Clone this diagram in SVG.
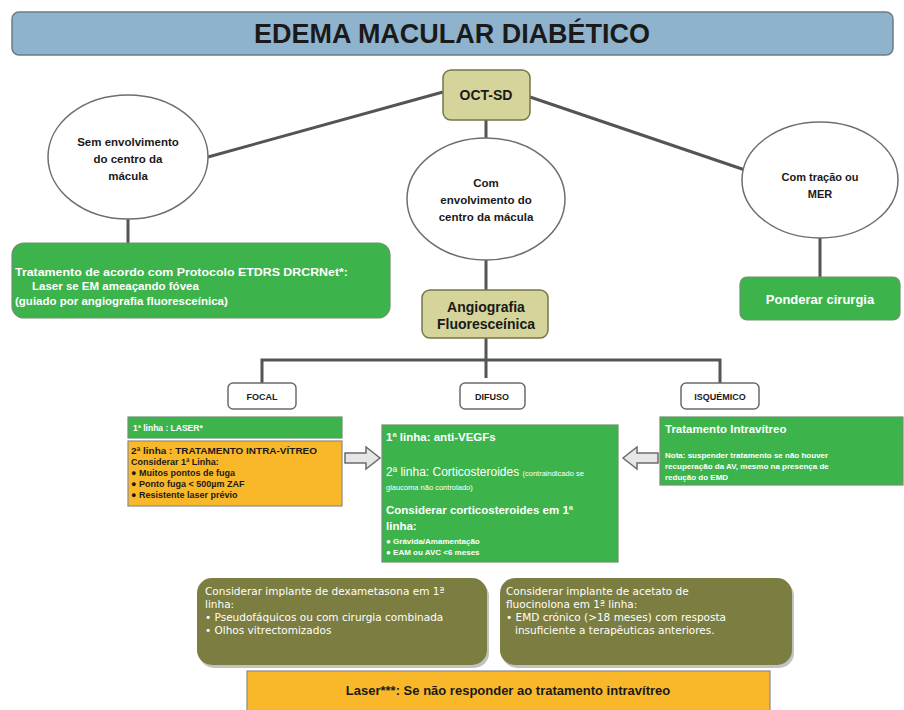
<svg xmlns="http://www.w3.org/2000/svg" width="904" height="710" viewBox="0 0 904 710">
<defs>
<style>
.ln{stroke:#545454;stroke-width:3;fill:none}
.ell{fill:#fff;stroke:#6e6e6e;stroke-width:1.5}
.khaki{fill:#d5d49a;stroke:#77764a;stroke-width:1.5}
.green{fill:#3cb44b;stroke:#6f8f6f;stroke-width:1.2}
.orange{fill:#f8b829;stroke:#8a8a8a;stroke-width:1.2}
.olive{fill:#7b7e40}
.shadow{fill:#9a9a9a;opacity:0.6}
.tag{fill:#fff;stroke:#6b6b6b;stroke-width:1.5}
.arrow{fill:#e6e6e6;stroke:#6b6b6b;stroke-width:1.5}
.b{font-family:"Liberation Sans",Arial,sans-serif;font-weight:bold}
.r{font-family:"Liberation Sans",Arial,sans-serif}
.v{font-family:"DejaVu Sans",Verdana,sans-serif}
.dk{fill:#1a1a1a}
.wh{fill:#fff}
</style>
</defs>
<rect width="904" height="710" fill="#fff"/>

<g id="title">
<rect x="12" y="12" width="881" height="43" rx="7" fill="#8fb3cd" stroke="#6a7c88" stroke-width="1.5"/>
<text x="452" y="43" text-anchor="middle" class="b dk" font-size="27" textLength="396" lengthAdjust="spacingAndGlyphs">EDEMA MACULAR DIABÉTICO</text>
</g>

<g id="connectors">
<line class="ln" x1="208" y1="157" x2="443" y2="92"/>
<line class="ln" x1="530" y1="97" x2="745" y2="170"/>
<line class="ln" x1="486" y1="120" x2="486" y2="138"/>
<line class="ln" x1="486" y1="260" x2="486" y2="290"/>
<line class="ln" x1="128" y1="219" x2="128" y2="243"/>
<line class="ln" x1="820" y1="238" x2="820" y2="277"/>
<line class="ln" x1="486" y1="338" x2="486" y2="378"/>
<polyline class="ln" points="262,383 262,360 720,360 720,383"/>
</g>

<g id="oct-sd">
<rect class="khaki" x="443" y="70" width="87" height="50" rx="8"/>
<text x="486" y="100" text-anchor="middle" class="b dk" font-size="14">OCT-SD</text>
</g>

<g id="sem-envolvimento">
<ellipse class="ell" cx="128" cy="157" rx="80" ry="62"/>
<text x="128" y="146" text-anchor="middle" class="b dk" font-size="11.5">Sem envolvimento</text>
<text x="128" y="163" text-anchor="middle" class="b dk" font-size="11.5">do centro da</text>
<text x="128" y="180" text-anchor="middle" class="b dk" font-size="11.5">mácula</text>
</g>

<g id="com-envolvimento">
<ellipse class="ell" cx="486" cy="199" rx="79" ry="61"/>
<text x="486" y="187" text-anchor="middle" class="b dk" font-size="11.5">Com</text>
<text x="486" y="204" text-anchor="middle" class="b dk" font-size="11.5">envolvimento do</text>
<text x="486" y="221" text-anchor="middle" class="b dk" font-size="11.5">centro da mácula</text>
</g>

<g id="com-tracao">
<ellipse class="ell" cx="820" cy="180" rx="78" ry="58"/>
<text x="820" y="181" text-anchor="middle" class="b dk" font-size="11">Com tração ou</text>
<text x="820" y="198" text-anchor="middle" class="b dk" font-size="11">MER</text>
</g>

<g id="tratamento-etdrs">
<rect class="green" x="12" y="243" width="378" height="75" rx="12"/>
<text x="15" y="276" class="b wh" font-size="11.5" textLength="333" lengthAdjust="spacingAndGlyphs">Tratamento de acordo com Protocolo ETDRS DRCRNet*:</text>
<text x="32" y="290" class="b wh" font-size="11.5">Laser se EM ameaçando fóvea</text>
<text x="15" y="305" class="b wh" font-size="11.5">(guiado por angiografia fluoresceínica)</text>
</g>

<g id="angiografia">
<rect class="khaki" x="422" y="290" width="126" height="48" rx="8"/>
<text x="486" y="312" text-anchor="middle" class="b dk" font-size="14">Angiografia</text>
<text x="486" y="329" text-anchor="middle" class="b dk" font-size="14">Fluoresceínica</text>
</g>

<g id="ponderar-cirurgia">
<rect class="green" x="740" y="277" width="160" height="43" rx="7"/>
<text x="820" y="304" text-anchor="middle" class="b wh" font-size="13">Ponderar cirurgia</text>
</g>

<g id="focal">
<rect class="tag" x="228" y="383" width="68" height="26" rx="5"/>
<text x="262" y="400" text-anchor="middle" class="b dk" font-size="9">FOCAL</text>
</g>
<g id="difuso">
<rect class="tag" x="460" y="383" width="65" height="26" rx="5"/>
<text x="492" y="400" text-anchor="middle" class="b dk" font-size="9">DIFUSO</text>
</g>
<g id="isquemico">
<rect class="tag" x="681" y="383" width="78" height="26" rx="5"/>
<text x="720" y="400" text-anchor="middle" class="b dk" font-size="9">ISQUÉMICO</text>
</g>

<g id="laser-1linha">
<rect class="green" x="128" y="417" width="214" height="21"/>
<text x="133" y="431" class="b wh" font-size="8.5">1ª linha : LASER*</text>
</g>

<g id="intravitreo-2linha">
<rect class="orange" x="128" y="441" width="214" height="65"/>
<text x="131" y="454" class="b dk" font-size="9" textLength="186" lengthAdjust="spacingAndGlyphs">2ª linha : TRATAMENTO INTRA-VÍTREO</text>
<text x="131" y="465" class="b dk" font-size="9">Considerar 1ª Linha:</text>
<text x="131" y="476" class="b dk" font-size="9">●  Muitos pontos de fuga</text>
<text x="131" y="487" class="b dk" font-size="9">●  Ponto fuga &lt; 500µm ZAF</text>
<text x="131" y="498" class="b dk" font-size="9">●  Resistente laser prévio</text>
</g>

<g id="arrow-right">
<path class="arrow" d="M345,453 H366 V447 L380,458 L366,469 V463 H345 Z"/>
</g>

<g id="difuso-tratamento">
<rect class="green" x="382" y="425" width="236" height="137"/>
<text x="386" y="441" class="b wh" font-size="11.5">1ª linha: anti-VEGFs</text>
<text x="386" y="476" class="r wh" font-size="12">2ª linha: Corticosteroides <tspan font-size="7.5">(contraindicado se</tspan></text>
<text x="386" y="490" class="r wh" font-size="7.5">glaucoma não controlado)</text>
<text x="386" y="514" class="b wh" font-size="11.5">Considerar corticosteroides em 1ª</text>
<text x="386" y="530" class="b wh" font-size="11.5">linha:</text>
<text x="386" y="544" class="b wh" font-size="8">●   Grávida/Amamentação</text>
<text x="386" y="555" class="b wh" font-size="8">●   EAM ou AVC &lt;6 meses</text>
</g>

<g id="arrow-left">
<path class="arrow" d="M623,458 L637,447 V453 H658 V463 H637 V469 Z"/>
</g>

<g id="isquemico-tratamento">
<rect class="green" x="660" y="417" width="243" height="68"/>
<text x="665" y="433" class="b wh" font-size="11.5">Tratamento Intravítreo</text>
<text x="665" y="458" class="b wh" font-size="8">Nota: suspender tratamento se não houver</text>
<text x="665" y="469" class="b wh" font-size="8">recuperação da AV, mesmo na presença de</text>
<text x="665" y="480" class="b wh" font-size="8">redução do EMD</text>
</g>

<g id="dexametasona">
<rect class="shadow" x="199" y="581" width="290" height="87" rx="15"/>
<rect class="olive" x="197" y="578" width="290" height="87" rx="15"/>
<text x="205" y="595" class="v wh" font-size="10.5">Considerar implante de dexametasona em 1ª</text>
<text x="205" y="608" class="v wh" font-size="10.5">linha:</text>
<text x="205" y="621" class="v wh" font-size="10.5">• Pseudofáquicos ou com cirurgia combinada</text>
<text x="205" y="634" class="v wh" font-size="10.5">• Olhos vitrectomizados</text>
</g>

<g id="fluocinolona">
<rect class="shadow" x="502" y="581" width="292" height="87" rx="15"/>
<rect class="olive" x="500" y="578" width="292" height="87" rx="15"/>
<text x="506" y="595" class="v wh" font-size="10.5">Considerar implante de acetato de</text>
<text x="506" y="608" class="v wh" font-size="10.5">fluocinolona em 1ª linha:</text>
<text x="506" y="621" class="v wh" font-size="10.5">• EMD crónico (&gt;18 meses)  com resposta</text>
<text x="515" y="634" class="v wh" font-size="10.5">insuficiente a terapêuticas anteriores.</text>
</g>

<g id="laser-final">
<rect class="orange" x="247" y="671" width="523" height="45"/>
<text x="508" y="695" text-anchor="middle" class="b dk" font-size="13">Laser***: Se não responder ao tratamento intravítreo</text>
</g>
</svg>
